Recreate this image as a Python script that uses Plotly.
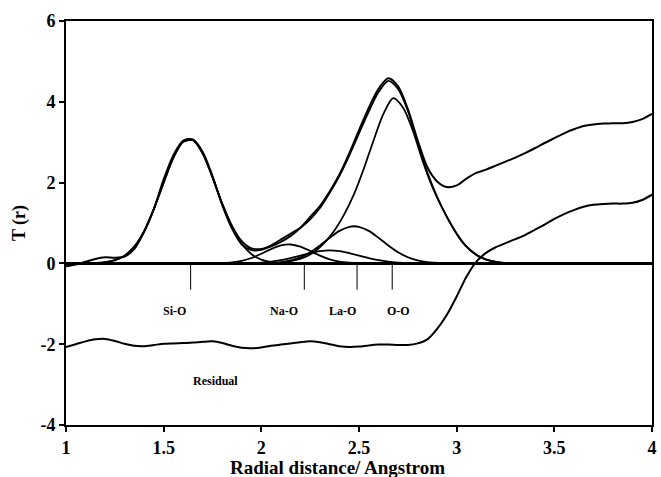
import plotly.graph_objects as go

# ---- measured total correlation function T(r) ----
r_grid = [1.00, 1.05, 1.10, 1.15, 1.20, 1.25, 1.30, 1.35, 1.40, 1.45,
          1.50, 1.55, 1.60, 1.65, 1.70, 1.75, 1.80, 1.85, 1.90, 1.95,
          2.00, 2.05, 2.10, 2.15, 2.20, 2.25, 2.30, 2.35, 2.40, 2.45,
          2.50, 2.55, 2.60, 2.65, 2.70, 2.75, 2.80, 2.85, 2.90, 2.95,
          3.00, 3.05, 3.10, 3.15, 3.20, 3.25, 3.30, 3.35, 3.40, 3.45,
          3.50, 3.55, 3.60, 3.65, 3.70, 3.75, 3.80, 3.85, 3.90, 3.95, 4.00]

t_measured = [-0.07, -0.03, 0.04, 0.11, 0.15, 0.14, 0.17, 0.36, 0.78, 1.35,
              2.08, 2.68, 3.04, 3.07, 2.76, 2.16, 1.44, 0.86, 0.47, 0.33,
              0.34, 0.42, 0.53, 0.68, 0.88, 1.15, 1.42, 1.78, 2.20, 2.72,
              3.30, 3.85, 4.32, 4.58, 4.38, 3.82, 3.05, 2.38, 2.03, 1.89,
              1.93, 2.10, 2.24, 2.32, 2.42, 2.52, 2.62, 2.73, 2.85, 2.98,
              3.10, 3.22, 3.32, 3.40, 3.44, 3.46, 3.47, 3.47, 3.50, 3.57, 3.70]

# residual (measured - fit), offset by -2
t_residual = [-2.07, -2.00, -1.93, -1.88, -1.87, -1.92, -1.99, -2.04, -2.05, -2.02,
              -1.99, -1.98, -1.97, -1.96, -1.94, -1.93, -1.97, -2.04, -2.09, -2.10,
              -2.08, -2.04, -2.01, -1.98, -1.95, -1.93, -1.95, -2.00, -2.05, -2.07,
              -2.06, -2.03, -2.01, -2.01, -2.02, -2.02, -1.98, -1.88, -1.62, -1.27,
              -0.82, -0.33, 0.04, 0.26, 0.40, 0.50, 0.60, 0.70, 0.83, 0.96,
              1.10, 1.22, 1.32, 1.40, 1.45, 1.47, 1.48, 1.48, 1.50, 1.57, 1.70]

# ---- total fitted curve ----
r_fit = r_grid[:48]
t_fit = [0.0, 0.0, 0.0, 0.01, 0.03, 0.08, 0.19, 0.42, 0.80, 1.35,
         2.00, 2.62, 3.01, 3.05, 2.72, 2.13, 1.48, 0.93, 0.55, 0.37,
         0.36, 0.45, 0.59, 0.74, 0.88, 1.09, 1.37, 1.75, 2.17, 2.67,
         3.22, 3.76, 4.24, 4.52, 4.32, 3.78, 3.00, 2.25, 1.65, 1.15,
         0.74, 0.42, 0.22, 0.10, 0.04, 0.015, 0.005, 0.0]

# ---- individual fitted pair correlations ----
r_sio = [1.05, 1.10, 1.15, 1.20, 1.25, 1.30, 1.35, 1.40, 1.45, 1.50, 1.55, 1.60,
         1.65, 1.70, 1.75, 1.80, 1.85, 1.90, 1.95, 2.00, 2.05, 2.10, 2.15, 2.20]
t_sio = [0.0, 0.002, 0.009, 0.027, 0.078, 0.19, 0.417, 0.80, 1.35, 2.00, 2.62, 3.01,
         3.05, 2.72, 2.13, 1.47, 0.90, 0.48, 0.226, 0.094, 0.034, 0.011, 0.003, 0.0]

r_nao = [1.70, 1.75, 1.80, 1.85, 1.90, 1.95, 2.00, 2.05, 2.10, 2.15, 2.20, 2.25,
         2.30, 2.35, 2.40, 2.45, 2.50, 2.55]
t_nao = [0.0, 0.002, 0.009, 0.025, 0.064, 0.134, 0.238, 0.355, 0.445, 0.468, 0.415, 0.309,
         0.193, 0.102, 0.045, 0.017, 0.005, 0.0]

r_nao2 = [1.85, 1.90, 1.95, 2.00, 2.05, 2.10, 2.15, 2.20, 2.25, 2.30, 2.35, 2.40,
          2.45, 2.50, 2.55, 2.60, 2.65, 2.70, 2.75, 2.80, 2.85]
t_nao2 = [0.0, 0.004, 0.009, 0.021, 0.043, 0.080, 0.132, 0.194, 0.256, 0.303, 0.320, 0.303,
          0.256, 0.194, 0.132, 0.080, 0.043, 0.021, 0.009, 0.004, 0.0]

r_lao = [1.95, 2.00, 2.05, 2.10, 2.15, 2.20, 2.25, 2.30, 2.35, 2.40, 2.45, 2.475,
         2.50, 2.55, 2.60, 2.65, 2.70, 2.75, 2.80, 2.85, 2.90, 2.95, 3.00]
t_lao = [0.001, 0.004, 0.013, 0.032, 0.075, 0.152, 0.276, 0.444, 0.634, 0.805, 0.906, 0.92,
         0.906, 0.805, 0.634, 0.444, 0.276, 0.152, 0.075, 0.032, 0.013, 0.004, 0.001]

r_oo = [2.125, 2.175, 2.225, 2.275, 2.325, 2.375, 2.425, 2.475, 2.525, 2.575, 2.625, 2.675,
        2.725, 2.775, 2.825, 2.875, 2.925, 2.975, 3.025, 3.075, 3.125, 3.175, 3.225, 3.275]
t_oo = [0.04, 0.08, 0.16, 0.30, 0.52, 0.82, 1.22, 1.72, 2.35, 3.05, 3.70, 4.09,
        3.86, 3.30, 2.55, 1.90, 1.38, 0.93, 0.55, 0.30, 0.14, 0.06, 0.02, 0.0]

# ---- peak markers and labels ----
marker_r = [1.638, 2.22, 2.49, 2.67]
marker_depth = -0.65
pair_labels = ["Si-O", "Na-O", "La-O", "O-O"]
label_r = [1.556, 2.117, 2.418, 2.70]
label_t = -1.18
residual_label = "Residual"
residual_label_pos = (1.765, -2.91)

x_ticks = [1, 1.5, 2, 2.5, 3, 3.5, 4]
y_ticks = [-4, -2, 0, 2, 4, 6]
y_tick_text = ["-4", "-2", "0", "2", "4", "6"]
x_title = "Radial distance/ Angstrom"
y_title = "T (r)"

SERIF = "Liberation Serif, Times New Roman, serif"
LINE = dict(color="black", width=1.8, shape="spline", smoothing=0.8)

fig = go.Figure()

for xs, ys in [(r_sio, t_sio), (r_nao, t_nao), (r_nao2, t_nao2),
               (r_lao, t_lao), (r_oo, t_oo)]:
    fig.add_trace(go.Scatter(x=xs, y=ys, mode="lines", line=LINE,
                             hoverinfo="skip", showlegend=False))

fig.add_trace(go.Scatter(x=r_fit, y=t_fit, mode="lines", line=LINE,
                         showlegend=False))
fig.add_trace(go.Scatter(x=r_grid, y=t_measured, mode="lines",
                         line=dict(LINE, width=2.0), showlegend=False))
fig.add_trace(go.Scatter(x=r_grid, y=t_residual, mode="lines",
                         line=dict(LINE, width=2.0), showlegend=False))

# vertical peak markers
mx, my = [], []
for r in marker_r:
    mx += [r, r, None]
    my += [0, marker_depth, None]
fig.add_trace(go.Scatter(x=mx, y=my, mode="lines",
                         line=dict(color="black", width=1),
                         showlegend=False, hoverinfo="skip"))

label_font = dict(family=SERIF, size=12, color="black", weight="bold")
tick_font = dict(family=SERIF, size=18, color="black", weight="bold")
title_font = dict(family=SERIF, size=19, color="black", weight="bold")

annotations = []
for txt, r in zip(pair_labels, label_r):
    annotations.append(dict(x=r, y=label_t, text=txt, showarrow=False,
                            font=label_font))
annotations.append(dict(x=residual_label_pos[0], y=residual_label_pos[1],
                        text=residual_label, showarrow=False, font=label_font))
# x-axis title, set slightly left of the plot centre
annotations.append(dict(x=0.4636, y=-0.105, xref="paper", yref="paper",
                        xanchor="center", yanchor="middle", text=x_title,
                        showarrow=False, font=title_font))

fig.update_layout(
    width=661, height=477,
    margin=dict(l=66, r=4, t=21, b=52),
    paper_bgcolor="white", plot_bgcolor="white",
    annotations=annotations,
    xaxis=dict(range=[1, 4], tickvals=x_ticks,
               ticktext=[f"{v:g}" for v in x_ticks],
               ticks="outside", ticklen=5, tickwidth=1.5, tickcolor="black",
               showline=True, linecolor="black", linewidth=2, mirror=True,
               showgrid=False, zeroline=False, tickfont=tick_font),
    yaxis=dict(range=[-4, 6], tickvals=y_ticks, ticktext=y_tick_text,
               ticks="outside", ticklen=5, tickwidth=1.5, tickcolor="black",
               showline=True, linecolor="black", linewidth=2, mirror=True,
               showgrid=False, zeroline=True, zerolinecolor="black",
               zerolinewidth=2.5, tickfont=tick_font,
               title=dict(text=y_title, font=tick_font, standoff=10)),
)

fig.write_html("out.html")
